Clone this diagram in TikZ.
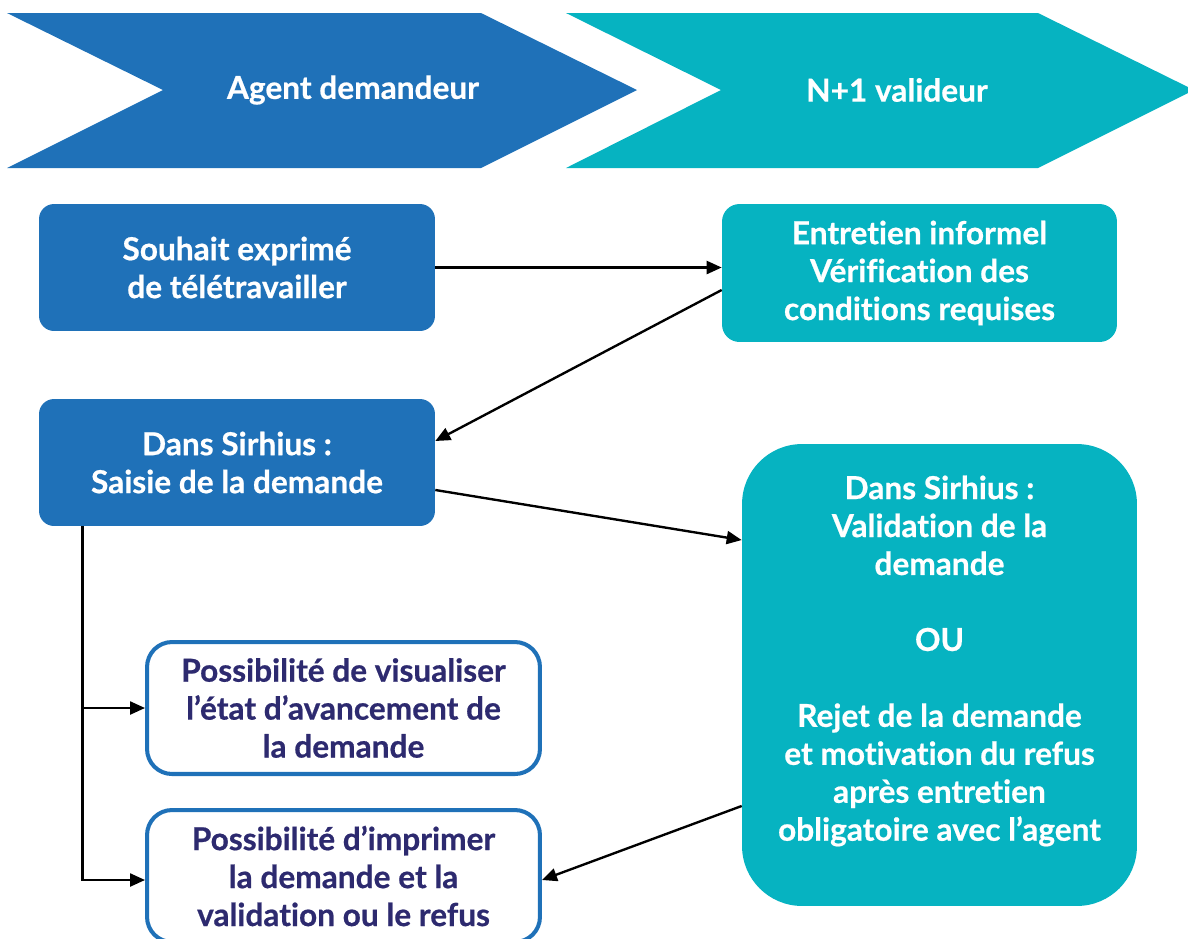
\documentclass[tikz,border=0pt]{standalone}
\usepackage{fontspec}
\setmainfont[Ligatures=NoCommon,BoldFeatures={FakeBold=0.6}]{Lato}
\definecolor{sirblue}{HTML}{1F71B8}
\definecolor{sirteal}{HTML}{06B3C1}
\definecolor{sirnavy}{HTML}{2D2A6F}
\usetikzlibrary{calc,arrows.meta,positioning}
\tikzset{
	boxtext/.style={
		align=center, font=\fontsize{18}{21.6}\selectfont\bfseries
	},
	bluebox/.style={
		boxtext, rectangle, rounded corners=0.3cm, fill=sirblue,
		text=white, minimum width=7.92cm, minimum height=2.54cm
	},
	tealbox/.style={
		boxtext, rectangle, rounded corners=0.35cm, fill=sirteal,
		text=white, minimum width=7.9cm, minimum height=2.76cm
	},
	outlinebox/.style={
		boxtext, rectangle, rounded corners=0.5cm, draw=sirblue,
		line width=2.3pt, fill=white, text=sirnavy,
		minimum width=7.86cm, minimum height=2.64cm
	},
	flow_arrow/.style={-{Triangle[length=0.3cm,width=0.26cm]}, line width=1.35pt}
}
\begin{document}
\begin{tikzpicture}[x=0.02cm,y=-0.02cm]
				\clip (0,0) rectangle (1188,938);
				\fill[sirblue] (7,13) -- (481,13) -- (637,90) -- (481,168) -- (7,168) -- (163,90) -- cycle;
				\fill[sirteal] (566,13) -- (1038,13) -- (1194,90) -- (1038,168) -- (566,168) -- (721,90) -- cycle;
				\node[boxtext,text=white] (agent) at (353,90) {Agent demandeur};
				\node[boxtext,text=white] (n1) at (897,90) {N+1 valideur};
				\node[bluebox] (souhait) at (237,267.5) {Souhait exprimé\\de télétravailler};
				\node[bluebox] (saisie) at (237,462.5) {Dans Sirhius :\\Saisie de la demande};
				\node[tealbox] (entretien) at (919.5,273) {Entretien informel\\Vérification des\\conditions requises};
				\node[tealbox,rounded corners=1.2cm,minimum height=9.24cm] (valid) at (939.5,675) {};
				\node[boxtext,text=white] (validtxt) at (939.5,661) {Dans Sirhius :\\Validation de la\\demande\\[0.76cm]OU\\[0.76cm]Rejet de la demande\\et motivation du refus\\après entretien\\obligatoire avec l’agent};
				\node[outlinebox] (visualiser) at (343.5,708) {Possibilité de visualiser\\l’état d’avancement de\\la demande};
				\node[outlinebox] (imprimer) at (343.5,876) {Possibilité d’imprimer\\la demande et la\\validation ou le refus};
				\coordinate (trunk) at ([xshift=0.88cm]saisie.south west);
				\draw[flow_arrow] (souhait.east) -- (souhait.east -| entretien.west);
				\draw[flow_arrow] ([yshift=-0.34cm]entretien.west) -- ([yshift=0.43cm]saisie.east);
				\draw[flow_arrow] ([yshift=-0.55cm]saisie.east) -- ([yshift=2.7cm]valid.west);
				\draw[flow_arrow] ([yshift=-2.62cm]valid.west) -- ([yshift=-0.08cm]imprimer.east);
				\draw[flow_arrow] (trunk) |- ([yshift=-0.08cm]imprimer.west);
				\draw[flow_arrow] (trunk |- visualiser.west) -- (visualiser.west);
			\end{tikzpicture}
\end{document}
